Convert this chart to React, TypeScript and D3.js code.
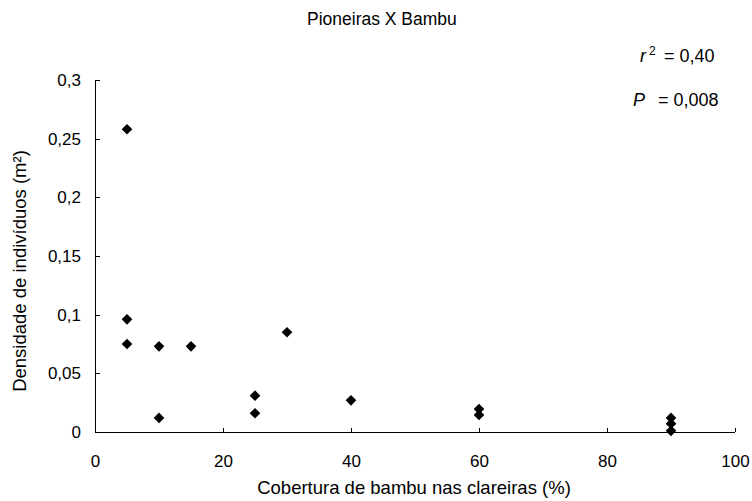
import React from "react";
import * as d3 from "d3";

const coberturaX = [5, 5, 5, 10, 10, 15, 25, 25, 30, 40, 60, 60, 90, 90, 90];
const densidadeY = [0.258, 0.096, 0.075, 0.073, 0.012, 0.073, 0.031, 0.016, 0.085, 0.027, 0.0195, 0.0145, 0.012, 0.007, 0.001];
const xTicks = [0, 20, 40, 60, 80, 100];
const yTicks = [0, 0.05, 0.1, 0.15, 0.2, 0.25, 0.3];

const fmt = (v: number) => String(v).replace(".", ",");

export default function App() {
  const width = 752;
  const height = 501;
  const margins = { top: 80, right: 17, bottom: 69, left: 95 };
  const boundedWidth = width - margins.left - margins.right;
  const boundedHeight = height - margins.top - margins.bottom;

  const xScale = d3.scaleLinear().domain([0, 100]).range([0, boundedWidth]);
  const yScale = d3.scaleLinear().domain([0, 0.3]).range([boundedHeight, 0]);

  const diamond = d3.symbol().type(d3.symbolDiamond2).size(72);
  const font = "'Liberation Sans', Arial, sans-serif";

  return (
    <svg width={width} height={height} style={{ position: "absolute", left: 0, top: 0, fontFamily: font }}>
      <text x={307} y={25} fontSize={17.5}>Pioneiras X Bambu</text>

      <text x={640} y={62} fontSize={18}>
        <tspan fontStyle="italic">r</tspan>
        <tspan dy={-7} fontSize={12} dx={3}>2</tspan>
        <tspan x={664} y={62}>= 0,40</tspan>
      </text>
      <text x={633} y={106} fontSize={18}>
        <tspan fontStyle="italic">P</tspan>
        <tspan x={658}>= 0,008</tspan>
      </text>

      <g transform={`translate(${margins.left},${margins.top})`}>
        {/* y axis */}
        <line x1={0.5} x2={0.5} y1={0} y2={boundedHeight} stroke="#000" />
        {yTicks.map((t) => (
          <g key={t} transform={`translate(0,${Math.round(yScale(t)) + 0.5})`}>
            <line x1={0} x2={5} stroke="#000" />
            <text x={-14} dy="0.35em" textAnchor="end" fontSize={17}>{fmt(t)}</text>
          </g>
        ))}
        {/* x axis */}
        <line x1={0} x2={boundedWidth} y1={boundedHeight + 0.5} y2={boundedHeight + 0.5} stroke="#000" />
        {xTicks.map((t) => (
          <g key={t} transform={`translate(${Math.round(xScale(t)) + 0.5},${boundedHeight})`}>
            <line y1={-4} y2={0} stroke="#000" />
            <text y={35} textAnchor="middle" fontSize={17}>{t}</text>
          </g>
        ))}

        {coberturaX.map((x, i) => (
          <path
            key={i}
            d={diamond() as string}
            transform={`translate(${xScale(x)},${yScale(densidadeY[i])})`}
            fill="#000"
          />
        ))}
      </g>

      <text x={414} y={494} textAnchor="middle" fontSize={18.5}>Cobertura de bambu nas clareiras (%)</text>
      <text transform="translate(26,271) rotate(-90)" textAnchor="middle" fontSize={18.5}>
        Densidade de indivíduos (m²)
      </text>
    </svg>
  );
}
